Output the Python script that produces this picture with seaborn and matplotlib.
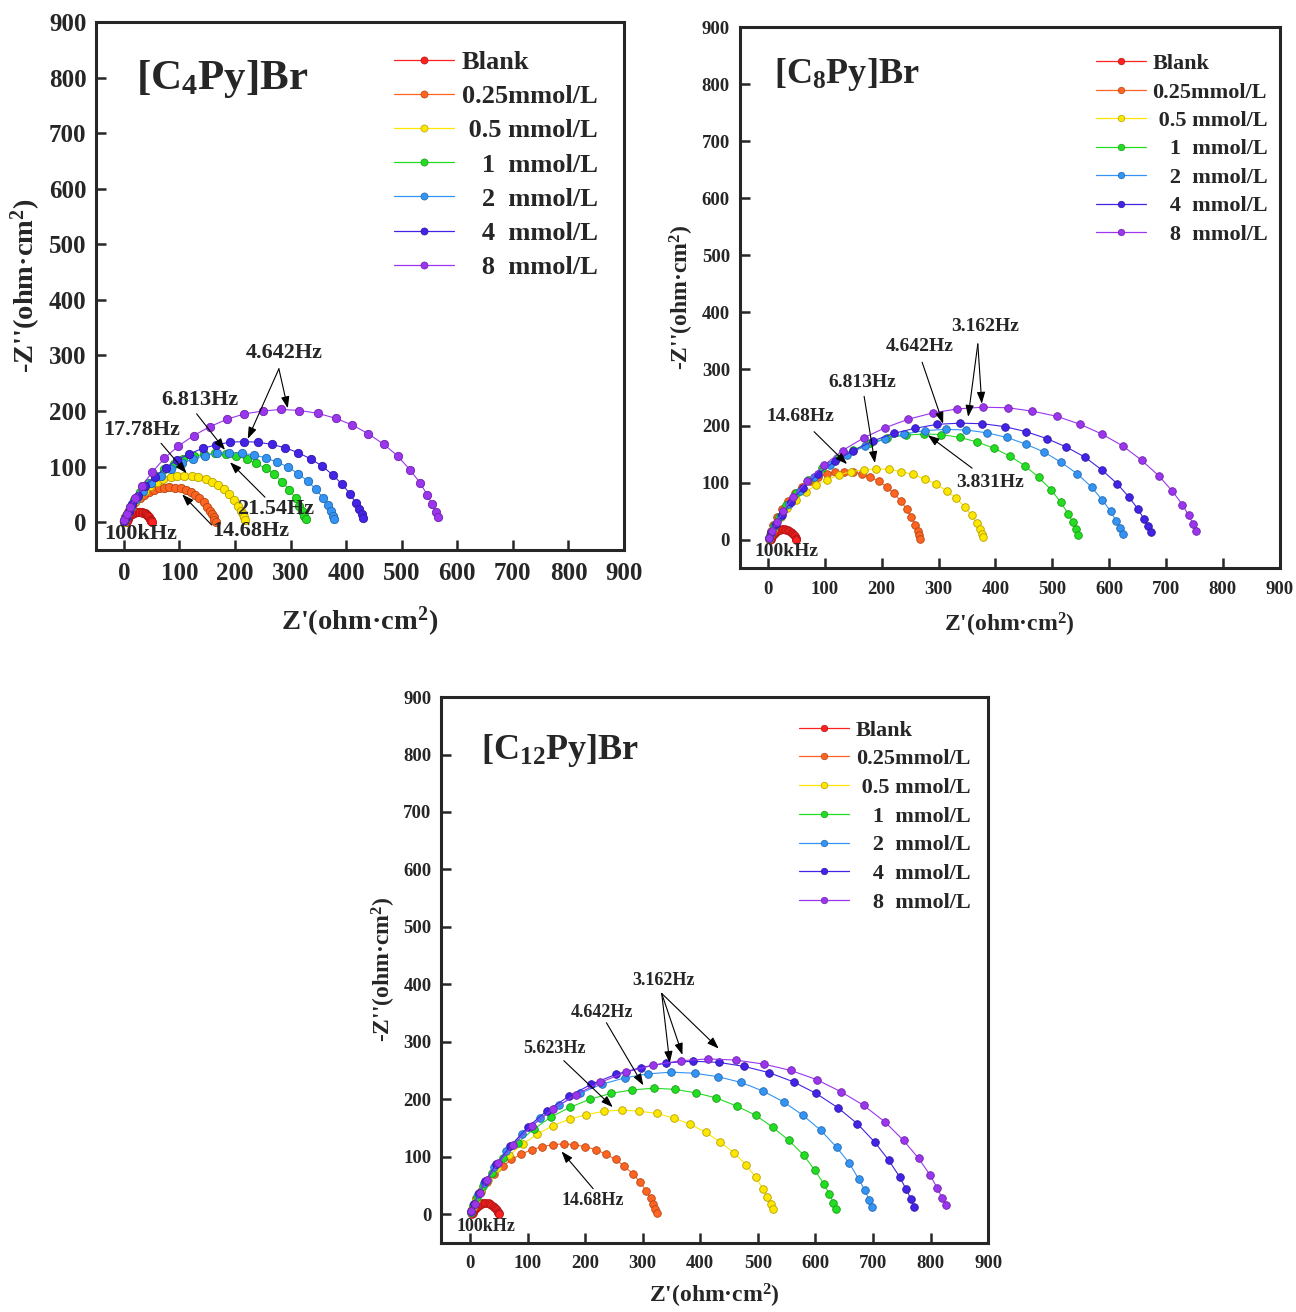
import matplotlib
matplotlib.use("Agg")
import matplotlib.pyplot as plt
from matplotlib.lines import Line2D
from matplotlib import colors as mcolors
import pandas as pd
import seaborn as sns

LABELS = ["Blank", "0.25mmol/L", " 0.5 mmol/L", "   1  mmol/L",
          "   2  mmol/L", "   4  mmol/L", "   8  mmol/L"]
COLORS = ["#ff2020", "#ff6420", "#ffe600", "#22dd22", "#3394f5", "#4422e6", "#9c35ee"]

# Blank curve (same solution for all three inhibitors)
BLANK_X = [4.1, 4.4, 4.9, 5.6, 6.7, 8.1, 10.0, 12.0, 14.2, 16.6, 19.1, 21.7, 24.3, 27.0,
           29.7, 32.3, 34.9, 37.4, 39.8, 42.0, 44.0, 45.9, 47.3, 48.4, 49.1, 49.6, 49.9]
BLANK_Y = [0.3, 1.3, 2.6, 4.2, 6.3, 8.5, 10.9, 12.9, 14.7, 16.2, 17.4, 18.3, 18.8, 19.0,
           18.8, 18.3, 17.4, 16.2, 14.7, 12.9, 10.9, 8.5, 6.3, 4.2, 2.6, 1.3, 0.3]

# [C4Py]Br : Z' and -Z'' for 0.25, 0.5, 1, 2, 4, 8 mmol/L
C4_X = [
    [0, 2, 3, 6, 10, 15, 21, 29, 37, 45, 54, 63, 73, 82, 92, 102, 111, 120, 128, 136, 144, 150, 155, 159, 162, 163, 165],
    [1, 2, 4, 8, 13, 20, 28, 38, 48, 60, 71, 84, 96, 109, 122, 134, 147, 158, 170, 180, 190, 198, 205, 210, 214, 216, 218],
    [1, 3, 7, 12, 19, 30, 43, 57, 73, 90, 107, 126, 145, 164, 183, 202, 221, 238, 255, 271, 285, 298, 309, 316, 321, 325, 327],
    [1, 4, 8, 13, 22, 34, 49, 66, 84, 104, 125, 146, 168, 190, 212, 234, 255, 276, 296, 314, 331, 346, 358, 367, 372, 376, 379],
    [1, 4, 9, 15, 25, 39, 56, 75, 96, 118, 142, 166, 191, 216, 241, 266, 290, 314, 336, 357, 376, 393, 407, 417, 423, 428, 431],
    [1, 5, 11, 20, 33, 51, 73, 98, 126, 155, 185, 217, 250, 283, 316, 349, 381, 411, 440, 468, 493, 515, 533, 546, 555, 561, 565],
]
C4_Y = [
    [1, 4, 9, 14, 21, 28, 36, 43, 49, 54, 58, 61, 62, 63, 62, 61, 58, 54, 49, 43, 36, 28, 21, 14, 9, 4, 1],
    [1, 6, 11, 18, 28, 38, 48, 57, 65, 72, 77, 81, 84, 84, 84, 82, 78, 73, 67, 59, 50, 40, 30, 21, 14, 9, 4],
    [2, 8, 17, 27, 40, 55, 70, 84, 95, 105, 113, 119, 122, 124, 123, 119, 114, 106, 97, 86, 72, 58, 43, 30, 20, 11, 5],
    [2, 8, 17, 27, 41, 56, 71, 84, 96, 106, 114, 120, 124, 125, 124, 121, 116, 108, 99, 87, 74, 59, 44, 31, 21, 12, 6],
    [3, 10, 20, 32, 47, 65, 82, 98, 112, 123, 133, 139, 144, 145, 144, 140, 134, 125, 114, 101, 85, 68, 51, 35, 24, 14, 7],
    [4, 14, 28, 44, 66, 90, 115, 137, 156, 172, 185, 195, 200, 203, 201, 196, 187, 175, 159, 140, 119, 94, 71, 49, 32, 19, 9],
]

# [C8Py]Br
C8_X = [
    [1, 3, 5, 9, 16, 24, 35, 47, 60, 73, 88, 103, 118, 134, 150, 165, 180, 195, 209, 221, 233, 244, 252, 259, 263, 265, 267],
    [1, 4, 8, 13, 22, 34, 49, 66, 84, 104, 125, 146, 168, 190, 212, 234, 255, 276, 296, 314, 331, 346, 358, 367, 372, 376, 379],
    [1, 5, 11, 19, 32, 49, 71, 95, 121, 150, 179, 210, 242, 274, 305, 337, 368, 397, 426, 452, 476, 498, 515, 528, 536, 542, 546],
    [1, 6, 13, 22, 37, 56, 81, 109, 139, 171, 205, 240, 276, 313, 349, 385, 420, 454, 486, 516, 544, 569, 588, 603, 612, 619, 624],
    [2, 6, 14, 24, 40, 61, 88, 117, 150, 185, 221, 259, 298, 338, 377, 416, 454, 490, 525, 558, 587, 614, 635, 651, 661, 669, 673],
    [2, 7, 15, 27, 44, 68, 98, 131, 168, 206, 247, 290, 333, 378, 422, 465, 508, 549, 587, 624, 657, 687, 711, 729, 740, 748, 753],
]
C8_Y = [
    [2, 8, 16, 26, 40, 54, 69, 82, 93, 103, 110, 116, 119, 120, 119, 116, 110, 103, 93, 82, 69, 54, 40, 26, 16, 8, 2],
    [2, 8, 17, 27, 41, 56, 71, 84, 96, 106, 114, 120, 123, 125, 124, 120, 115, 107, 98, 86, 73, 58, 43, 30, 20, 11, 5],
    [3, 13, 25, 40, 61, 83, 105, 126, 143, 158, 170, 179, 184, 186, 185, 180, 172, 161, 147, 130, 110, 88, 66, 46, 31, 19, 9],
    [3, 13, 26, 42, 63, 86, 110, 131, 149, 165, 177, 186, 192, 194, 193, 188, 180, 168, 154, 136, 116, 93, 70, 50, 34, 21, 11],
    [4, 14, 28, 44, 67, 91, 116, 138, 157, 174, 187, 196, 203, 205, 204, 199, 190, 178, 163, 145, 123, 99, 75, 54, 37, 24, 14],
    [4, 16, 31, 50, 76, 103, 131, 157, 179, 197, 212, 223, 230, 233, 232, 226, 217, 203, 186, 165, 140, 113, 86, 62, 43, 28, 16],
]

# [C12Py]Br
C12_X = [
    [1, 3, 7, 11, 19, 29, 42, 57, 72, 89, 107, 125, 144, 163, 181, 200, 219, 236, 253, 268, 283, 296, 306, 314, 318, 322, 324],
    [1, 5, 11, 19, 31, 47, 68, 92, 117, 144, 173, 202, 233, 264, 294, 325, 354, 383, 410, 435, 459, 480, 496, 509, 516, 522, 526],
    [1, 6, 13, 22, 38, 57, 83, 111, 141, 174, 209, 245, 281, 319, 356, 392, 428, 463, 496, 526, 554, 580, 599, 615, 624, 631, 636],
    [2, 7, 14, 25, 41, 63, 91, 122, 155, 191, 229, 269, 309, 350, 391, 431, 471, 509, 545, 578, 609, 637, 659, 675, 686, 693, 698],
    [2, 7, 16, 27, 46, 70, 100, 134, 172, 211, 253, 297, 341, 387, 432, 476, 520, 562, 601, 639, 673, 703, 727, 746, 757, 766, 771],
    [2, 8, 17, 29, 49, 75, 107, 144, 184, 226, 271, 318, 366, 414, 462, 510, 557, 602, 644, 684, 721, 753, 779, 799, 811, 820, 826],
]
C12_Y = [
    [2, 8, 17, 27, 40, 55, 70, 83, 95, 104, 112, 117, 121, 122, 121, 117, 112, 104, 95, 83, 70, 55, 40, 27, 17, 8, 2],
    [3, 12, 24, 39, 59, 80, 102, 122, 139, 154, 165, 173, 179, 181, 179, 175, 167, 156, 142, 125, 106, 85, 64, 44, 29, 17, 8],
    [4, 15, 30, 48, 72, 97, 124, 148, 169, 186, 200, 210, 216, 219, 217, 211, 202, 188, 172, 151, 128, 102, 76, 52, 35, 20, 9],
    [4, 17, 34, 54, 81, 110, 140, 167, 190, 210, 226, 237, 244, 247, 245, 239, 229, 214, 195, 172, 146, 116, 88, 61, 41, 25, 12],
    [5, 18, 36, 58, 87, 118, 151, 180, 205, 226, 243, 255, 263, 266, 264, 257, 246, 230, 210, 185, 157, 125, 94, 65, 44, 26, 13],
    [5, 18, 37, 59, 88, 120, 153, 182, 208, 229, 247, 259, 267, 270, 268, 261, 250, 234, 213, 189, 160, 128, 97, 68, 46, 28, 15],
]

TICKS = [0, 100, 200, 300, 400, 500, 600, 700, 800, 900]


def darker(c, f=0.7):
    r, g, b = mcolors.to_rgb(c)
    return (r * f, g * f, b * f)


def draw_panel(ax, xs, ys, title, title_xy, fs, ms, leg_anchor, leg_space, xpad, notes):
    """fs = (ticks, axis labels, title, legend, notes)"""
    rows = []
    for lab, xv, yv in zip(LABELS, [BLANK_X] + xs, [BLANK_Y] + ys):
        for a, b in zip(xv, yv):
            rows.append((a, b, lab))
    df = pd.DataFrame(rows, columns=["zre", "zim", "conc"])

    sns.lineplot(data=df, x="zre", y="zim", hue="conc", hue_order=LABELS,
                 palette=dict(zip(LABELS, COLORS)), sort=False, estimator=None,
                 marker="o", markersize=ms, linewidth=0.8, legend=False, ax=ax)
    for line in ax.lines:
        line.set_markeredgecolor(darker(line.get_color()))
        line.set_markeredgewidth(0.6)

    ax.set_xlim(-50, 900)
    ax.set_ylim(-50, 900)
    ax.set_xticks(TICKS)
    ax.set_yticks(TICKS)
    ax.tick_params(direction="in", length=7, width=1.8, labelsize=fs[0], pad=7,
                   top=False, right=False)
    ax.tick_params(axis="x", pad=9)
    for s in ax.spines.values():
        s.set_linewidth(2.2)
        s.set_visible(True)
    ax.set_xlabel("Z'(ohm·cm$^{2}$)", fontsize=fs[1], fontweight="bold", labelpad=xpad)
    ax.set_ylabel("-Z''(ohm·cm$^{2}$)", fontsize=fs[1], fontweight="bold")

    ax.text(title_xy[0], title_xy[1], title, fontsize=fs[2], fontweight="bold",
            ha="left", va="center")

    handles = [Line2D([], [], color=c, lw=0.9, marker="o", markersize=ms * 0.85,
                      markeredgecolor=darker(c), markeredgewidth=0.5) for c in COLORS]
    ax.legend(handles, LABELS, loc="upper right", bbox_to_anchor=leg_anchor,
              frameon=False, fontsize=fs[3], handlelength=2.25, handletextpad=0.3,
              labelspacing=leg_space, borderpad=0, borderaxespad=0)

    for text, pos, arrows in notes:
        ax.text(pos[0], pos[1], text, fontsize=fs[4], fontweight="bold",
                ha="center", va="center")
        for start, end in arrows:
            ax.annotate("", xy=end, xytext=start,
                        arrowprops=dict(arrowstyle="-|>,head_length=0.7,head_width=0.25",
                                        color="black", lw=0.8, shrinkA=0, shrinkB=0))


if __name__ == "__main__":
    sns.set_style("ticks")
    plt.rcParams["font.family"] = ["Liberation Serif", "DejaVu Serif"]
    plt.rcParams["font.weight"] = "bold"
    plt.rcParams["axes.labelweight"] = "bold"
    plt.rcParams["mathtext.fontset"] = "custom"
    plt.rcParams["mathtext.rm"] = "Liberation Serif:bold"
    plt.rcParams["mathtext.it"] = "Liberation Serif:bold"
    plt.rcParams["mathtext.bf"] = "Liberation Serif:bold"
    plt.rcParams["mathtext.default"] = "rm"

    fig = plt.figure(figsize=(12.96, 13.12), dpi=100)
    ax1 = fig.add_axes([0.0741, 0.5808, 0.4074, 0.4024])
    ax2 = fig.add_axes([0.5707, 0.5667, 0.4167, 0.4127])
    ax3 = fig.add_axes([0.3404, 0.0528, 0.4221, 0.4159])

    notes1 = [
        ("100kHz", (30, -22), []),
        ("14.68Hz", (229, -16), [((158, -5), (105, 50))]),
        ("21.54Hz", (273, 23), [((254, 45), (191, 108))]),
        ("17.78Hz", (33, 166), [((67, 142), (113, 88))]),
        ("6.813Hz", (136, 219), [((131, 195), (182, 130))]),
        ("4.642Hz", (288, 305), [((279, 276), (223, 150)), ((279, 276), (295, 205))]),
    ]
    draw_panel(ax1, C4_X, C4_Y, "[C$_{4}$Py]Br", (22, 797), (18, 20.5, 31, 19, 16), 6,
               (0.95, 0.946), 0.405, 14, notes1)

    notes2 = [
        ("100kHz", (33, -21), []),
        ("14.68Hz", (56, 216), [((81, 190), (139, 133))]),
        ("6.813Hz", (165, 277), [((169, 252), (188, 135))]),
        ("4.642Hz", (267, 339), [((271, 312), (308, 204))]),
        ("3.162Hz", (381, 374), [((369, 344), (352, 216)), ((369, 344), (376, 239))]),
        ("3.831Hz", (390, 100), [((359, 126), (281, 184))]),
    ]
    draw_panel(ax2, C8_X, C8_Y, "[C$_{8}$Py]Br", (10, 816), (13.5, 17, 26, 16, 14), 5.5,
               (0.977, 0.951), 0.355, 9, notes2)

    notes3 = [
        ("100kHz", (28, -21), []),
        ("14.68Hz", (213, 23), [((214, 44), (159, 109))]),
        ("5.623Hz", (147, 288), [((163, 267), (248, 186))]),
        ("4.642Hz", (230, 351), [((237, 333), (301, 224))]),
        ("3.162Hz", (337, 407), [((333, 384), (347, 263)), ((333, 384), (369, 277)),
                                 ((333, 384), (432, 288))]),
    ]
    draw_panel(ax3, C12_X, C12_Y, "[C$_{12}$Py]Br", (20, 807), (13.5, 17, 26, 16, 13), 5.5,
               (0.968, 0.958), 0.368, 7, notes3)

    fig.savefig("out.png", dpi=100)
